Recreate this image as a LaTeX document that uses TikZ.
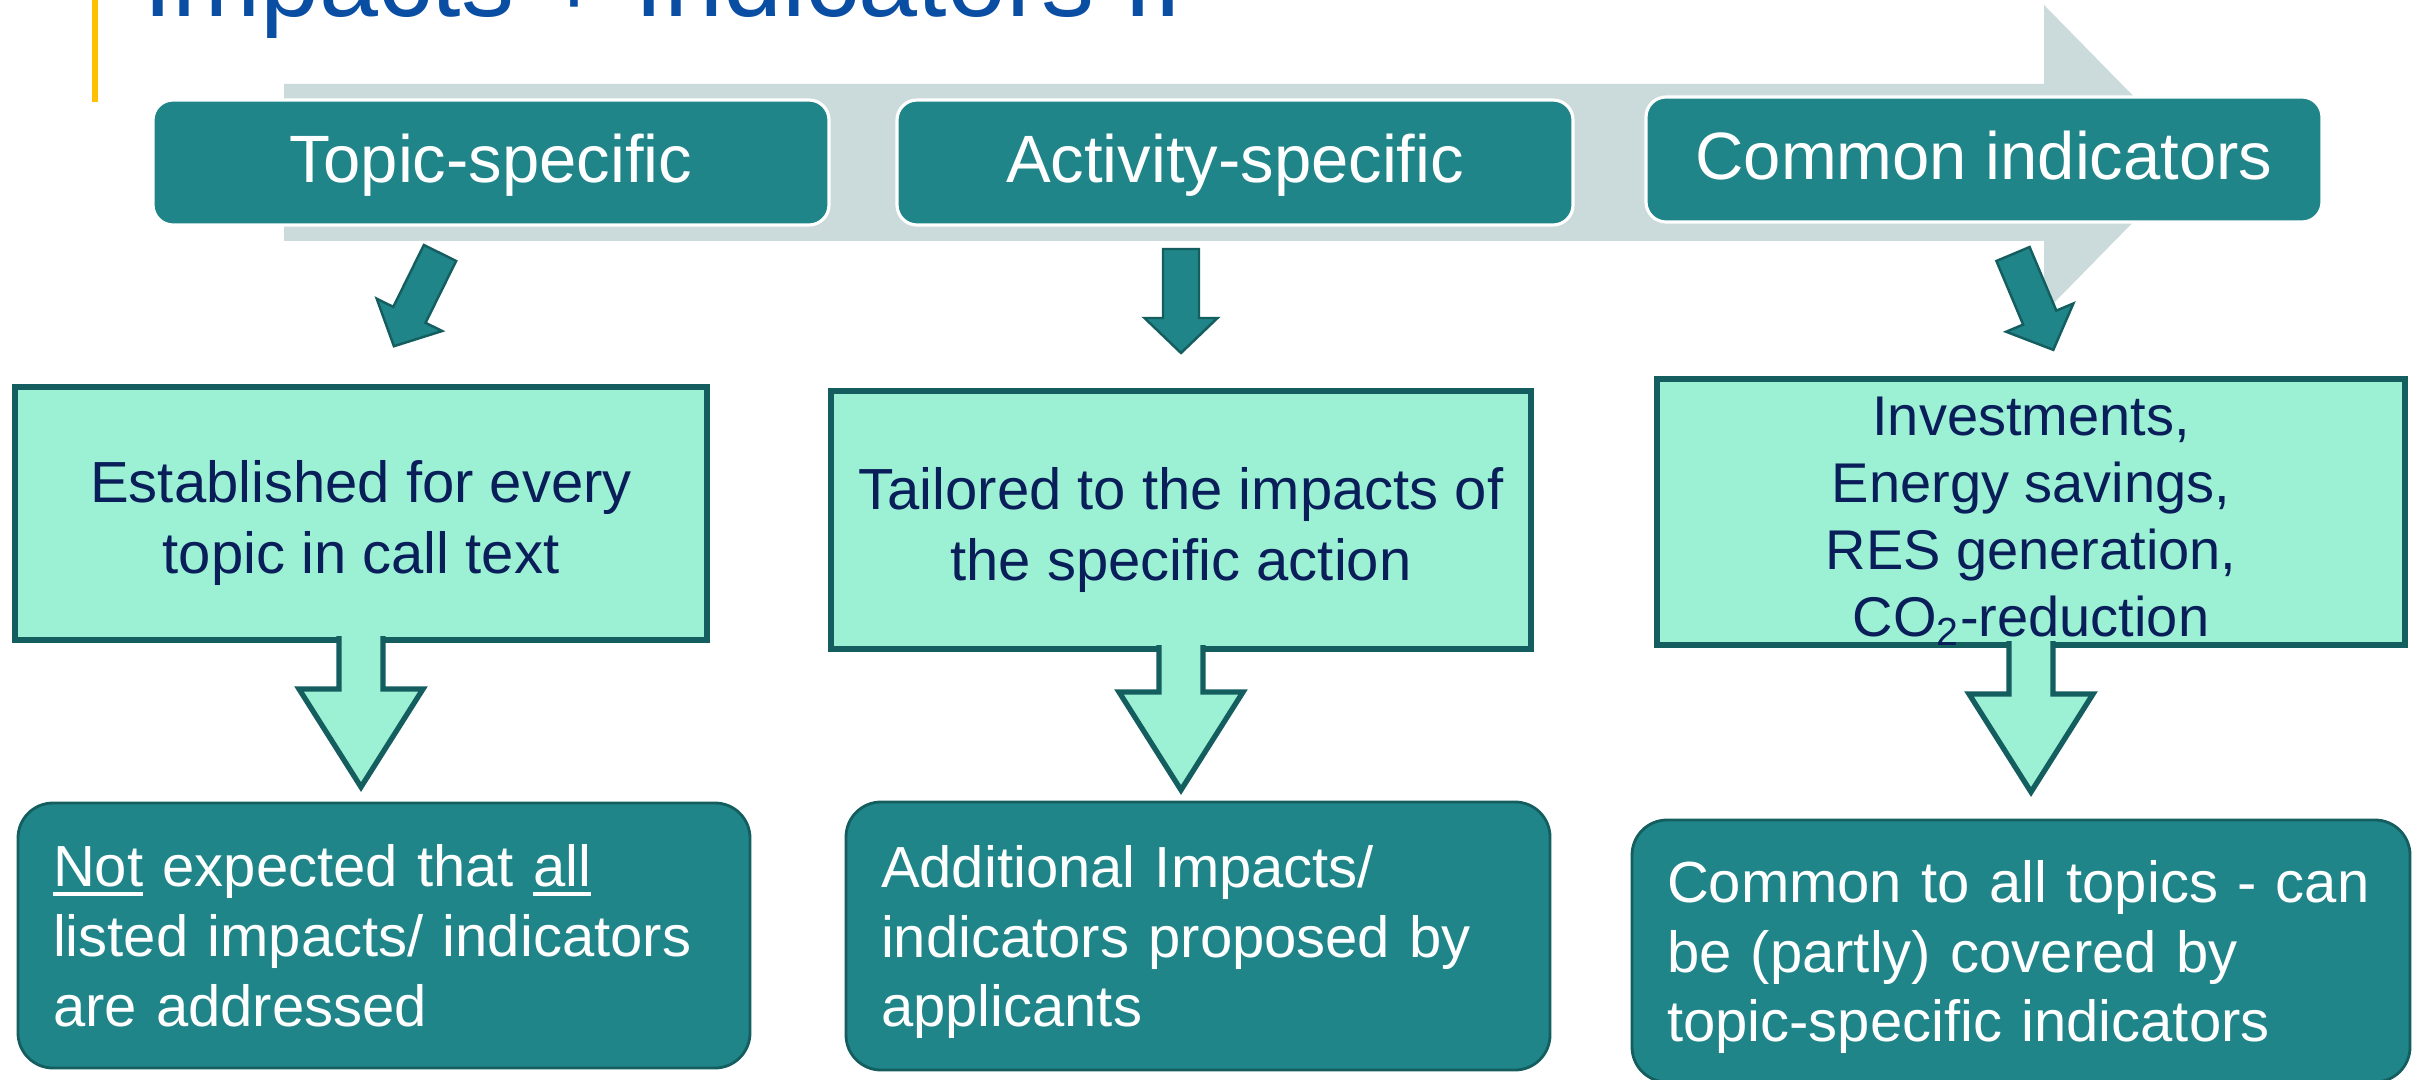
\documentclass[tikz,border=0pt]{standalone}
\usepackage{fontspec}
\setmainfont{Liberation Sans}
\usetikzlibrary{positioning,calc}

\definecolor{slideteal}{RGB}{31,133,137}
\definecolor{slidedark}{RGB}{21,94,96}
\definecolor{slidemint}{RGB}{156,240,212}
\definecolor{slidegrey}{RGB}{203,218,219}
\definecolor{slideblue}{RGB}{10,78,163}
\definecolor{slidegold}{RGB}{255,192,0}
\definecolor{slidenavy}{RGB}{10,30,90}

\newcommand{\ulword}[1]{\setbox0=\hbox{#1}\rlap{\rule[-0.1cm]{\wd0}{0.04cm}}\box0\relax}
\newcommand{\topstrut}{\rule{0pt}{17.5pt}}

\begin{document}
\begin{tikzpicture}
    \tikzstyle{every node}=[outer sep=0pt]
    \tikzstyle{head}=[
        draw=white, line width=0.9pt, fill=slideteal,
        rounded corners=0.2cm,
        minimum width=6.76cm, minimum height=1.25cm,
        text height=15.6pt, text depth=4pt,
        text=white, font=\fontsize{19.06}{22}\selectfont]
    \tikzstyle{detail}=[
        draw=slidedark, line width=1.7pt, fill=slidemint,
        inner ysep=0pt, align=center,
        text=slidenavy, font=\fontsize{16.5}{20.2}\selectfont]
    \tikzstyle{note}=[
        draw=slidedark, line width=0.8pt, fill=slideteal,
        rounded corners=0.35cm, inner xsep=0.35cm, align=left,
        text=white, font=\fontsize{16.5}{19.9}\selectfont]
    \tikzstyle{darrow}=[fill=slideteal, draw=slidedark, line width=0.7pt, line join=miter]
    \tikzstyle{harrow}=[fill=slidemint, draw=slidedark, line width=1.5pt, line join=miter]

    \newcommand{\pointer}[2]{%
        \filldraw[darrow, shift={(#1)}, rotate=#2]
            (0,-0.18) -- (0.69,-0.18) -- (0.69,-0.365) -- (1.04,0)
            -- (0.69,0.365) -- (0.69,0.18) -- (0,0.18) -- cycle;}
    \newcommand{\hollowarrow}[2]{%
        \coordinate (hs) at (#1.south);
        \coordinate (ht) at (#2);
        \filldraw[harrow] ($(hs)+(-0.22,0.04)$) -- ($(hs |- ht)+(-0.22,0.98)$)
            -- ($(hs |- ht)+(-0.62,0.98)$) -- (hs |- ht)
            -- ($(hs |- ht)+(0.62,0.98)$) -- ($(hs |- ht)+(0.22,0.98)$)
            -- ($(hs)+(0.22,0.04)$);}

    \clip (0,0) rectangle (24.22,-10.80);
    \fill[white] (0,0) rectangle (24.22,-10.80);

    % title, cut at the top
    \fill[slidegold] (0.92,0) rectangle (0.98,-1.02);
    \node[anchor=base west, inner sep=0pt, text=slideblue,
        font=\fontsize{30.16}{36}\selectfont] (title) at (1.43,-0.17) {Impacts + Indicators II};

    % grey process arrow
    \fill[slidegrey] (2.84,-0.84) -- (20.44,-0.84) -- (20.44,-0.05) -- (21.95,-1.59)
        -- (20.44,-3.13) -- (20.44,-2.41) -- (2.84,-2.41) -- cycle;

    \node[head] (t1) at (4.91,-1.625) {Topic-specific};
    \node[head, right=0.68cm of t1] (t2) {Activity-specific};
    \node[head, right=0.73cm of t2, yshift=0.03cm] (t3) {Common indicators};

    \node[detail, minimum width=6.92cm, minimum height=2.53cm] (m1) at (3.61,-5.135)
        {\topstrut Established for every\\topic in call text};
    \node[detail, minimum width=7.0cm, minimum height=2.58cm] (m2) at (11.81,-5.20)
        {\topstrut Tailored to the impacts of\\the specific action};
    \node[detail, minimum width=7.48cm, minimum height=2.60cm,
        font=\fontsize{15.93}{19.06}\selectfont] (m3) at (20.31,-5.12)
        {\rule{0pt}{16pt}Investments,\\Energy savings,\\RES generation,\\CO\textsubscript{2}-reduction};

    \pointer{$(t1.south)+(-0.51,-0.28)$}{243.7}
    \pointer{$(m2.north |- t2.south)+(0,-0.24)$}{270}
    \pointer{$(t3.south)+(0.29,-0.32)$}{292.8}

    \node[note, text width=6.62cm, minimum height=2.65cm] (b1) at (3.84,-9.355)
        {\ulword{Not} expected that \ulword{all}\\listed impacts/ indicators\\are addressed};
    \node[note, text width=6.34cm, minimum height=2.68cm] (b2) at (11.98,-9.36)
        {Additional Impacts/\\indicators proposed by\\\smash{applicants}};
    \node[note, text width=7.08cm, minimum height=2.62cm] (b3) at (20.21,-9.51)
        {Common to all topics - can\\be (partly) covered by\\\smash{topic-specific indicators}};

    \hollowarrow{m1}{$(m1.south |- b1.north)+(0,0.16)$}
    \hollowarrow{m2}{$(m2.south |- b2.north)+(0,0.12)$}
    \hollowarrow{m3}{$(m3.south |- b3.north)+(0,0.28)$}
\end{tikzpicture}
\end{document}
